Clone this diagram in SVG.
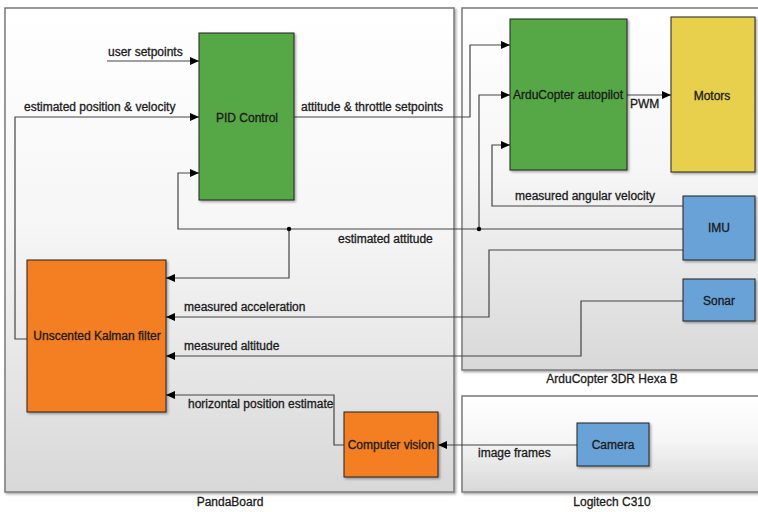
<svg xmlns="http://www.w3.org/2000/svg" width="758" height="512" viewBox="0 0 758 512">
<defs>
<linearGradient id="bg" x1="0" y1="0" x2="0" y2="1">
<stop offset="0" stop-color="#ffffff"/>
<stop offset="0.45" stop-color="#f6f6f6"/>
<stop offset="1" stop-color="#d8d8d8"/>
</linearGradient>
<filter id="sh" x="-10%" y="-10%" width="130%" height="130%">
<feDropShadow dx="1.5" dy="1.5" stdDeviation="1" flood-color="#000" flood-opacity="0.35"/>
</filter>
<marker id="ar" markerWidth="9" markerHeight="8" refX="9" refY="4" orient="auto" markerUnits="userSpaceOnUse">
<path d="M0,0 L9,4 L0,8 Z" fill="#000"/>
</marker>
</defs>
<style>
.cont{fill:url(#bg);stroke:#7a7a7a;stroke-width:1.5;filter:url(#sh)}
.blk{stroke:#222;stroke-width:1;filter:url(#sh)}
.g{fill:#55a845}.o{fill:#f47e20}.y{fill:#e8d04e}.b{fill:#68a2d6}
text{font-family:"Liberation Sans",Arial,sans-serif;font-size:12px;fill:#1a1a1a;stroke:#1a1a1a;stroke-width:0.3}
.c{text-anchor:middle}
.w{fill:none;stroke:#444;stroke-width:1.2}
.a{marker-end:url(#ar)}
</style>
<rect width="758" height="512" fill="#fff"/>
<g id="pandaboard">
<rect class="cont" x="5" y="8" width="449" height="484"/>
<text class="c" x="230" y="506">PandaBoard</text>
</g>
<g id="arducopter">
<rect class="cont" x="462" y="8" width="300" height="362"/>
<text class="c" x="612" y="383">ArduCopter 3DR Hexa B</text>
</g>
<g id="logitech">
<rect class="cont" x="462" y="396" width="300" height="96"/>
<text class="c" x="612" y="506">Logitech C310</text>
</g>
<g id="connectors">
<path class="w a" d="M107,61 H199"/>
<path class="w a" d="M27,339 H15 V117 H199"/>
<path class="w a" d="M683,229 H178 V173 H199"/>
<path class="w a" d="M289,229 V278 H166"/>
<path class="w a" d="M479,229 V95 H510"/>
<path class="w a" d="M294,117 H470 V45 H510"/>
<path class="w a" d="M683,206 H492 V145 H510"/>
<path class="w a" d="M627,95 H671"/>
<path class="w a" d="M683,250 H489 V317 H166"/>
<path class="w a" d="M683,301 H581 V356 H166"/>
<path class="w a" d="M344,445 H334 V395 H166"/>
<path class="w a" d="M577,445 H438"/>
<circle cx="289" cy="229" r="2.2" fill="#000"/>
<circle cx="479" cy="229" r="2.2" fill="#000"/>
<text x="108" y="56">user setpoints</text>
<text x="24" y="111">estimated position &amp; velocity</text>
<text x="301" y="111">attitude &amp; throttle setpoints</text>
<text x="338" y="243">estimated attitude</text>
<text x="515" y="200">measured angular velocity</text>
<text x="630" y="108">PWM</text>
<text x="184" y="311">measured acceleration</text>
<text x="184" y="350">measured altitude</text>
<text x="188" y="408">horizontal position estimate</text>
<text x="478" y="457">image frames</text>
</g>
<g id="pid">
<rect class="blk g" x="199" y="33" width="95" height="167"/>
<text class="c" x="247" y="122">PID Control</text>
</g>
<g id="autopilot">
<rect class="blk g" x="510" y="19" width="117" height="151"/>
<text class="c" x="568" y="99">ArduCopter autopilot</text>
</g>
<g id="motors">
<rect class="blk y" x="671" y="17" width="84" height="155"/>
<text class="c" x="712" y="100">Motors</text>
</g>
<g id="imu">
<rect class="blk b" x="683" y="196" width="72" height="64"/>
<text class="c" x="719" y="232">IMU</text>
</g>
<g id="sonar">
<rect class="blk b" x="683" y="279" width="72" height="42"/>
<text class="c" x="719" y="305">Sonar</text>
</g>
<g id="ukf">
<rect class="blk o" x="27" y="260" width="139" height="152"/>
<text class="c" x="97" y="340">Unscented Kalman filter</text>
</g>
<g id="cv">
<rect class="blk o" x="344" y="412" width="94" height="65"/>
<text class="c" x="391" y="449">Computer vision</text>
</g>
<g id="camera">
<rect class="blk b" x="577" y="423" width="72" height="43"/>
<text class="c" x="613" y="449">Camera</text>
</g>
</svg>
